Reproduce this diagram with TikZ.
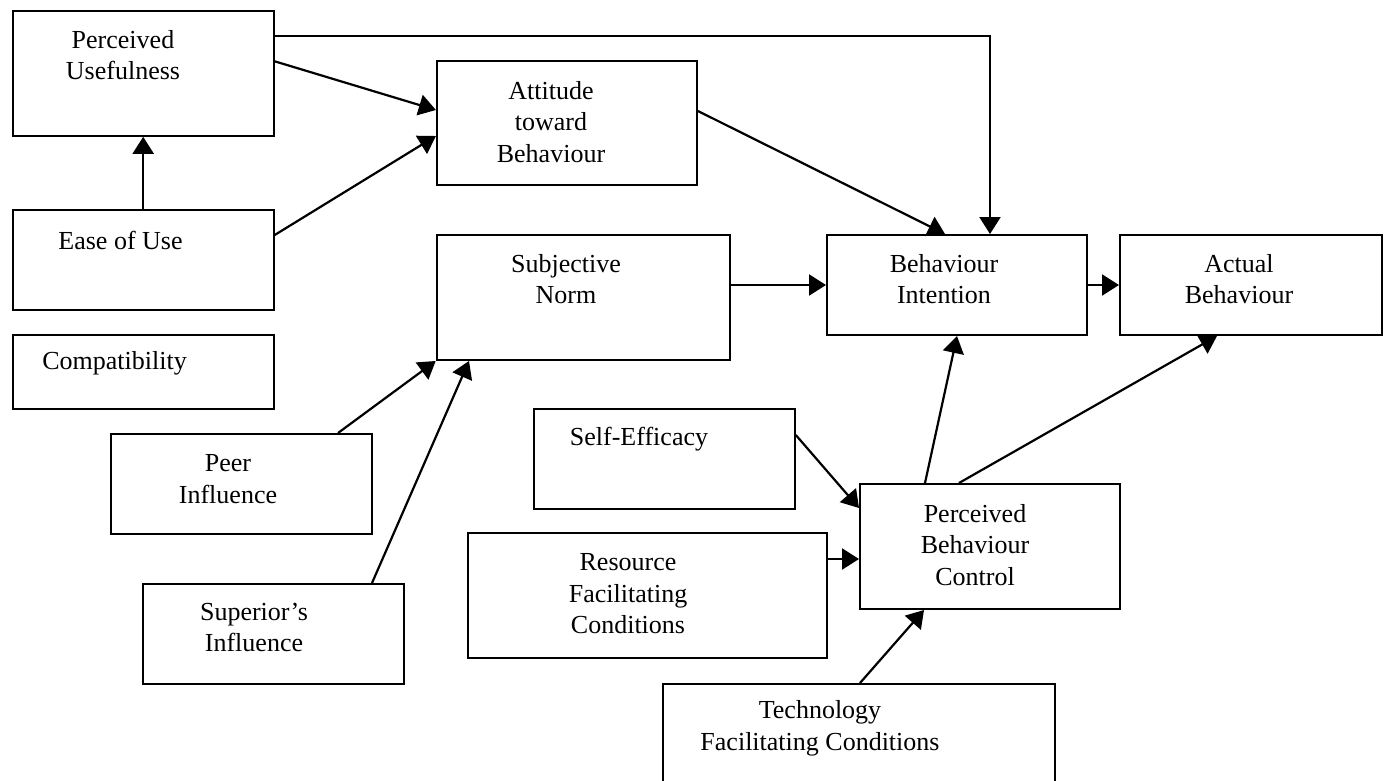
\documentclass[tikz,border=0pt]{standalone}
\usepackage{fontspec}
\setmainfont{Liberation Serif}
\usetikzlibrary{arrows.meta}
\begin{document}
\begin{tikzpicture}[x=1pt,y=-1pt,
  box/.style={draw, line width=2pt, rectangle, inner sep=0pt},
  lbl/.style={align=center, font=\fontsize{26}{31.5}\selectfont, inner sep=0pt},
  link/.style={line width=2.2pt, -{Triangle[length=17pt,width=21pt]}}]
\useasboundingbox (0,0) rectangle (1387,780);
\clip (0,0) rectangle (1387,780);

% construct boxes
\node[box, minimum width=261pt, minimum height=125pt] (pu)   at (143.2,73.3) {};
\node[box, minimum width=261pt, minimum height=100pt] (eou)  at (143.2,260) {};
\node[box, minimum width=261pt, minimum height=74pt]  (com)  at (143.2,372) {};
\node[box, minimum width=260pt, minimum height=124pt] (atb)  at (566.9,123) {};
\node[box, minimum width=293pt, minimum height=125pt] (sn)   at (583.2,297.5) {};
\node[box, minimum width=260pt, minimum height=100pt] (bi)   at (957,285) {};
\node[box, minimum width=262pt, minimum height=100pt] (ab)   at (1251,285) {};
\node[box, minimum width=261pt, minimum height=100pt] (peer) at (241.2,484) {};
\node[box, minimum width=261pt, minimum height=100pt] (sup)  at (273.4,634) {};
\node[box, minimum width=261pt, minimum height=100pt] (se)   at (664.3,459) {};
\node[box, minimum width=260pt, minimum height=125pt] (pbc)  at (990,546.5) {};
\node[box, minimum width=359pt, minimum height=125pt] (res)  at (647.5,595.5) {};
\node[box, minimum width=392pt, minimum height=120pt] (tech) at (859,744) {};

% box captions
\node[lbl] (pu-t)   at (123,55)    {Perceived\\Usefulness};
\node[lbl] (eou-t)  at (120.5,240) {Ease of Use};
\node[lbl] (com-t)  at (114.5,363) {Compatibility};
\node[lbl] (atb-t)  at (551,122)   {Attitude\\toward\\Behaviour};
\node[lbl] (sn-t)   at (566,279)   {Subjective\\Norm};
\node[lbl] (bi-t)   at (944,279)   {Behaviour\\Intention};
\node[lbl] (ab-t)   at (1239,279)  {Actual\\Behaviour};
\node[lbl] (peer-t) at (228,479)   {Peer\\Influence};
\node[lbl] (sup-t)  at (254,627.5) {Superior’s\\Influence};
\node[lbl] (se-t)   at (639,439)   {Self-Efficacy};
\node[lbl] (pbc-t)  at (975,545)   {Perceived\\Behaviour\\Control};
\node[lbl] (res-t)  at (628,594)   {Resource\\Facilitating\\Conditions};
\node[lbl] (tech-t) at (820,728.5) {Technology\\Facilitating Conditions};

% paths of influence
\draw[link] (eou.north) -- (pu.south);
\draw[link] ([yshift=12pt]pu.east) -- ([yshift=13pt]atb.west);
\draw[link] ([yshift=25pt]eou.east) -- ([yshift=-13pt]atb.west);
\draw[link] ([yshift=37.3pt]pu.east) -| ([xshift=33pt]bi.north);
\draw[link] ([yshift=12pt]atb.east) -- ([xshift=-12pt]bi.north);
\draw[link] (sn.east |- bi.west) -- (bi.west);
\draw[link] (bi.east) -- (ab.west);
\draw[link] ([xshift=96.8pt]peer.north) -- (sn.south west);
\draw[link] ([xshift=98.6pt]sup.north) -- ([xshift=-114.2pt]sn.south);
\draw[link] ([yshift=24pt]se.east) -- ([yshift=38.5pt]pbc.west);
\draw[link] ([yshift=-12.5pt]pbc.west -| res.east) -- ([yshift=-12.5pt]pbc.west);
\draw[link] ([xshift=1pt]tech.north) -- ([xshift=-66pt]pbc.south);
\draw[link] ([xshift=-65pt]pbc.north) -- (bi.south);
\draw[link] ([xshift=-31pt]pbc.north) -- ([xshift=-34pt]ab.south);
\end{tikzpicture}
\end{document}
